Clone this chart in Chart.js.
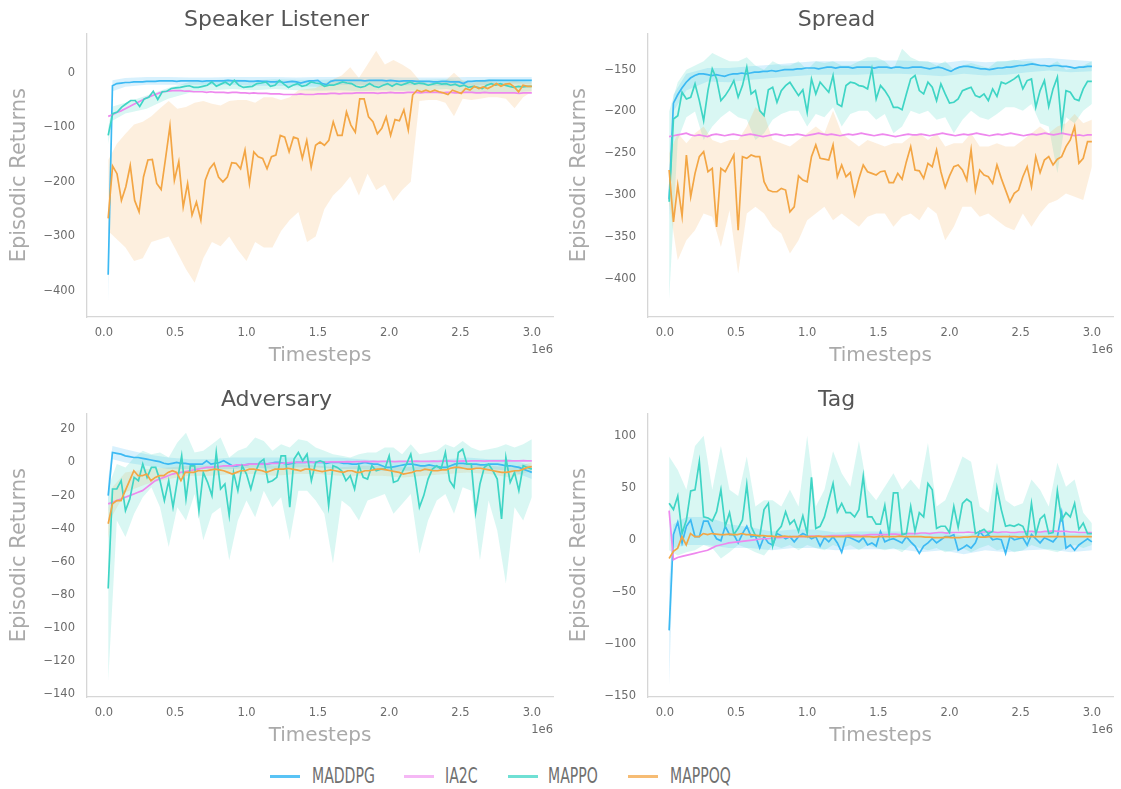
<!DOCTYPE html>
<html>
<head>
<meta charset="utf-8">
<script src="https://cdn.jsdelivr.net/npm/chart.js@4.4.1/dist/chart.umd.min.js"></script>
<style>
  body { margin: 0; background: #fff; width: 1121px; height: 789px; position: relative; overflow: hidden; font-family: 'DejaVu Sans', sans-serif; }
  canvas { position: absolute; }
  .lg-line { position: absolute; top: 775px; width: 30px; height: 2.5px; }
  .lg-text { position: absolute; top: 766px; font-size: 21px; line-height: 1; color: #707070; transform: scaleX(0.67); transform-origin: left center; white-space: nowrap; }
</style>
</head>
<body>
<canvas id="c1" width="560" height="370" style="left:0;top:0"></canvas>
<canvas id="c2" width="561" height="370" style="left:560px;top:0"></canvas>
<canvas id="c3" width="560" height="370" style="left:0;top:380px"></canvas>
<canvas id="c4" width="561" height="370" style="left:560px;top:380px"></canvas>

<div class="lg-line" style="left:270px;background:rgba(60,185,243,0.85)"></div>
<div class="lg-text" style="left:312px">MADDPG</div>
<div class="lg-line" style="left:404px;background:rgba(238,136,238,0.6)"></div>
<div class="lg-text" style="left:445px">IA2C</div>
<div class="lg-line" style="left:508px;background:rgba(63,213,197,0.75)"></div>
<div class="lg-text" style="left:548px">MAPPO</div>
<div class="lg-line" style="left:628px;background:rgba(243,166,69,0.75)"></div>
<div class="lg-text" style="left:670px">MAPPOQ</div>

<script>
// ---- data (episodic returns, x from 0.03e6 to 3.0e6) ----

const xTicks = [0, 500000, 1000000, 1500000, 2000000, 2500000, 3000000];
const slTicks = [-400, -300, -200, -100, 0];
const spTicks = [-400, -350, -300, -250, -200, -150];
const adTicks = [-140, -120, -100, -80, -60, -40, -20, 0, 20];
const tgTicks = [-150, -100, -50, 0, 50, 100];

// Speaker Listener
const slMaddpg = [-370, -24, -20, -19, -18, -18, -17, -17, -17, -16,
  -16, -16, -15, -15, -15, -15, -16, -15, -15, -15,
  -15, -15, -16, -15, -15, -15, -15, -15, -14, -15,
  -15, -15, -15, -16, -16, -15, -16, -16, -17, -17,
  -16, -18, -17, -16, -17, -19, -17, -15, -15, -14,
  -20, -22, -16, -14, -14, -14, -14, -14, -14, -14,
  -15, -14, -14, -14, -14, -15, -14, -15, -16, -15,
  -15, -15, -16, -16, -16, -16, -17, -17, -16, -16,
  -17, -17, -17, -20, -16, -16, -15, -15, -15, -14,
  -14, -14, -14, -14, -14, -14, -14, -14, -14, -14];
const slIa2c = [-80, -77, -73, -70, -66, -62, -58, -54, -50, -46,
  -43, -40, -37, -35, -34, -33, -33, -33, -34, -34,
  -35, -35, -35, -36, -35, -36, -36, -36, -37, -36,
  -36, -37, -37, -38, -37, -38, -38, -38, -39, -39,
  -39, -40, -40, -40, -40, -39, -40, -40, -40, -39,
  -39, -39, -38, -38, -39, -38, -38, -38, -37, -37,
  -37, -37, -37, -38, -37, -37, -36, -37, -37, -37,
  -36, -36, -36, -37, -36, -36, -36, -36, -37, -36,
  -36, -37, -37, -36, -36, -36, -37, -37, -36, -37,
  -37, -37, -37, -37, -37, -37, -38, -37, -37, -37];
const slMappo = [-115, -75, -72, -63, -57, -51, -51, -62, -48, -45,
  -34, -49, -35, -34, -29, -28, -27, -25, -24, -27,
  -27, -25, -23, -17, -25, -21, -17, -23, -14, -23,
  -27, -26, -25, -20, -19, -17, -25, -23, -14, -21,
  -27, -23, -20, -25, -23, -17, -19, -20, -25, -23,
  -23, -20, -17, -19, -20, -25, -27, -25, -20, -25,
  -27, -23, -20, -25, -20, -23, -20, -17, -21, -19,
  -20, -23, -21, -19, -21, -20, -23, -21, -25, -23,
  -27, -25, -27, -29, -23, -20, -23, -20, -23, -25,
  -27, -25, -26, -25, -25];
const slMappoq = [-267, -171, -185, -234, -209, -170, -234, -255, -191, -160,
  -159, -203, -214, -157, -98, -197, -163, -246, -203, -261,
  -237, -270, -197, -176, -166, -191, -200, -191, -165, -166,
  -176, -142, -203, -145, -154, -157, -176, -154, -151, -115,
  -118, -145, -118, -121, -157, -124, -173, -133, -127, -133,
  -124, -90, -115, -115, -72, -96, -109, -48, -48, -81,
  -90, -112, -102, -81, -115, -86, -88, -68, -105, -41,
  -32, -35, -32, -35, -32, -35, -37, -40, -32, -35,
  -38, -29, -32, -25, -29, -26, -29, -25, -20, -25,
  -21, -20, -26, -35, -23, -25, -25];

// Spread
const spMaddpg = [-305, -190, -180, -172, -165, -160, -157, -155, -155, -156,
  -157, -156, -157, -158, -156, -155, -155, -154, -155, -154,
  -153, -153, -152, -152, -151, -152, -151, -150, -150, -150,
  -149, -149, -148, -148, -148, -149, -148, -147, -147, -148,
  -147, -147, -147, -148, -147, -147, -147, -147, -148, -147,
  -147, -147, -148, -147, -147, -148, -148, -147, -147, -147,
  -148, -149, -148, -147, -148, -150, -152, -149, -147, -146,
  -146, -147, -148, -149, -149, -150, -149, -148, -148, -147,
  -147, -146, -145, -145, -144, -143, -144, -145, -145, -146,
  -145, -145, -146, -146, -147, -148, -147, -147, -146, -146];
const spIa2c = [-230, -229, -228, -227, -226, -228, -229, -228, -229, -230,
  -228, -227, -228, -229, -228, -227, -228, -229, -228, -227,
  -228, -229, -230, -229, -228, -227, -228, -229, -228, -228,
  -227, -228, -229, -228, -227, -226, -227, -228, -227, -228,
  -229, -228, -227, -228, -227, -226, -227, -228, -229, -228,
  -227, -228, -229, -230, -229, -228, -227, -228, -228, -227,
  -228, -229, -228, -227, -226, -227, -228, -229, -228, -227,
  -228, -227, -226, -227, -228, -229, -228, -227, -228, -227,
  -226, -227, -228, -229, -228, -227, -228, -227, -226, -227,
  -228, -227, -226, -227, -228, -229, -228, -229, -228, -228];
const spMappo = [-308, -209, -205, -177, -185, -183, -167, -187, -211, -175,
  -149, -161, -187, -181, -173, -163, -183, -169, -147, -179,
  -175, -199, -205, -174, -171, -189, -175, -169, -165, -173,
  -181, -174, -201, -161, -179, -165, -171, -177, -157, -191,
  -194, -169, -165, -166, -169, -170, -173, -149, -185, -169,
  -175, -183, -195, -195, -198, -179, -161, -157, -175, -179,
  -165, -171, -187, -167, -179, -190, -189, -185, -175, -173,
  -171, -181, -183, -179, -187, -173, -182, -165, -167, -164,
  -161, -157, -173, -163, -161, -195, -175, -163, -194, -173,
  -159, -218, -175, -177, -185, -187, -173, -164, -164];
const spMappoq = [-270, -332, -288, -325, -252, -302, -274, -254, -248, -272,
  -268, -338, -268, -272, -262, -252, -342, -254, -256, -252,
  -254, -254, -284, -294, -296, -296, -292, -294, -320, -314,
  -277, -282, -284, -254, -240, -256, -257, -258, -240, -278,
  -264, -278, -273, -300, -280, -264, -272, -274, -276, -272,
  -271, -285, -285, -274, -281, -260, -242, -270, -271, -280,
  -262, -266, -246, -272, -291, -277, -266, -264, -270, -282,
  -246, -294, -270, -276, -278, -286, -264, -280, -294, -308,
  -298, -294, -278, -266, -290, -254, -273, -258, -254, -264,
  -257, -254, -242, -234, -218, -262, -256, -236, -236];

// Adversary
const adMaddpg = [-20, 6, 5.5, 5, 4, 3.5, 3, 3, 2.5, 2,
  1.5, 1, 0.5, -0.5, -1, -0.5, 0, -0.5, -0.5, -1,
  -1, -1, -1, 1, -1, -0.5, 0, 1, -0.5, -2,
  -2, -1.5, -1.5, -1, -1, -1, -0.5, -1, -0.5, 0,
  0, -0.5, -1, -0.5, 0, 0, 0, 0.5, 0, 0,
  0, -0.5, 0, 0, 0, -0.5, -0.5, -1, -1, -0.5,
  0, -0.5, -1, -1, -2, -3, -3, -2.5, -2, -1.5,
  -1, -1, -1.5, -2, -2, -1.5, -2, -2.5, -3, -3,
  -2, -1, -0.5, -0.5, -1, -1, -1, -1.5, -1.5, -1,
  -1, -1, -1.5, -2, -2, -2.5, -3, -4, -5, -6];
const adIa2c = [-25, -24, -23, -22, -21, -20, -19, -18, -17, -15,
  -13, -11, -10, -9, -8, -7, -6.5, -6, -5.5, -5,
  -4.5, -4, -3.5, -3, -3, -2.5, -2.5, -2, -2, -2,
  -1.5, -1.5, -1.5, -1, -1, -1, -1, -0.8, -0.6, -0.5,
  -0.5, -0.4, -0.2, 0, 0, 0.1, 0, 0.2, 0.1, 0.2,
  0.3, 0.2, 0.3, 0.4, 0.3, 0.4, 0.5, 0.4, 0.5, 0.5,
  0.6, 0.5, 0.6, 0.5, 0.6, 0.7, 0.6, 0.5, 0.6, 0.7,
  0.6, 0.7, 0.8, 0.7, 0.6, 0.7, 0.8, 0.7, 0.8, 0.9,
  0.8, 0.7, 0.8, 0.9, 0.8, 0.9, 1.0, 0.9, 0.8, 0.9,
  1.0, 0.9, 1.0, 1.1, 1.0, 0.9, 1.0, 1.1, 1.0, 1.0];
const adMappo = [-76, -16, -16, -11, -29, -22, -9, -11, -1, -9,
  -3, -3, -11, -23, -11, -27, -11, 4, -22, -2,
  -2, -29, -6, -12, -20, 6, -16, -13, -32, -6,
  -17, -2, -7, -16, -6, 0, 2, -12, -11, -9,
  4, 4, -27, 2, 6, 1, 5, -11, 0, 1,
  0, -26, -2, -3, -5, -11, -8, -16, -2, -9,
  -10, -2, -5, -4, -4, 4, -12, -11, -6, -1,
  5, -9, -27, -20, -10, -4, -2, -4, 6, -11,
  -15, 6, 8, -1, -1, -30, -13, -3, -1, -5,
  -10, -34, 3, -12, -6, -17, -2, -3, -4];
const adMappoq = [-37, -25, -23, -23, -17, -11, -5, -8, -8, -7,
  -11, -9, -8, -8, -6, -5, -6, -11, -6, -6,
  -6, -5, -5, -5, -4.5, -4, -4.5, -5, -6, -7,
  -6, -5, -5, -4, -4, -4.5, -5, -6, -5, -4,
  -4, -4, -3.5, -4, -4.5, -5, -4, -4, -4.5, -5,
  -5.5, -5, -4.5, -5, -5.5, -6, -5, -5, -6, -6,
  -5, -5, -4.5, -4, -4, -4.5, -5, -5.5, -6, -7,
  -6.5, -6, -5, -5, -4, -4.5, -5, -5, -4.5, -4.5,
  -3.5, -3, -3, -3.5, -4, -4, -3.5, -3.5, -4, -4.5,
  -5, -5.5, -6, -6, -5.5, -5, -5, -4, -3, -2.5];

// Tag
const tgMaddpg = [-87, 5, 17, -3, 13, 19, 3, 3, 18, 18,
  8, 1, -1, 13, 5, 5, -3, 6, 13, 3,
  4, -8, 3, -3, -5, 6, 4, 1, 3, -2,
  3, 6, 4, 1, 3, -6, 2, -2, 3, -3,
  -12, 3, 2, 0, -2, 2, -5, -3, -6, 8,
  -2, 0, 1, -1, -3, 3, -2, -6, -13, -6,
  -3, 1, -3, 0, 3, 3, 5, -10, -8, -5,
  -8, -3, 8, 3, 5, 0, 1, 0, -13, 3,
  0, 1, 2, -5, 5, 1, -3, 2, 0, -2,
  3, 26, -8, -5, -10, -5, -2, 1, -2];
const tgIa2c = [28, -19, -17, -16, -15, -14, -13, -12, -11, -10,
  -8, -6, -5, -4, -3, -2.5, -2, -1.5, -1, -0.5,
  0, 0.5, 1, 1, 1.5, 2, 2, 2.5, 2.5, 3,
  3, 3, 3, 3.5, 3.5, 3.5, 3, 3.5, 4, 4,
  4, 4, 4.5, 4.5, 4.5, 4, 4.5, 5, 5, 5,
  5, 5, 5.5, 5.5, 5, 5.5, 6, 6, 6, 6.5,
  6.5, 6, 6.5, 7, 7, 6.5, 7, 7, 7, 7,
  7.5, 7, 7, 7.5, 7.5, 8, 7.5, 7, 7.5, 7.5,
  7, 7, 7.5, 7.5, 8, 8, 7.5, 7.5, 8, 8,
  8.5, 8, 8, 8, 7.5, 7.5, 7, 7, 7, 7];
const tgMappo = [35, 29, 42, 6, 19, 47, 48, 75, 22, 21,
  18, 27, 48, 13, 26, 5, 11, 19, 53, 13,
  4, 3, 29, 35, -6, 8, 13, 27, 15, 19,
  8, 23, 6, 60, 11, 13, 22, 38, 54, 27,
  35, 26, 26, 22, 29, 61, 22, 22, 15, 15,
  33, 5, 45, 45, 5, 6, 32, 8, 26, 22,
  54, 48, 11, 13, 13, 7, 32, 12, 35, 39,
  36, 6, 8, 10, 6, 8, 50, 29, 13, 14,
  13, 15, 13, 3, 35, 5, 20, 24, 6, 7,
  47, 19, 26, 22, 35, 10, 16, 6, 6];
const tgMappoq = [-18, -11, -8, 3, -5, 6, 3, 3, 6, 5,
  6, 5.5, 5, 5, 5.5, 5, 5, 6, 5, 5,
  4.5, 4, 4, 3.5, 3.5, 3, 3, 3.5, 3, 3,
  3, 3.5, 3, 3, 3, 3.5, 3, 3, 3, 3,
  3, 3, 3.5, 3, 3, 3, 3, 3, 2.5, 3,
  3, 3, 3, 3, 3.5, 3, 3, 3, 3, 3,
  2.5, 2.5, 2, 2, 2, 2.5, 2, 2, 2, 2.5,
  2.5, 3, 3, 2.5, 2.5, 3, 3, 3, 3, 3,
  3, 3, 2.5, 3, 3, 3, 3, 3, 3, 3,
  3, 3, 3, 3, 3, 3, 3, 3, 3, 3];

// shaded bands (lower / upper edges), 50 points over the same range
const slMappoqHi = [-160, -130, -112, -95, -90, -80, -65, -52, -66, -63, -55, -52, -57, -60, -52, -50, -50, -55, -45, -45,
  -50, -45, -32, -30, -28, -20, -12, -5, 10, -10, 15, 40, 15, 23, 15, 5, -14, -20, -18, -15,
  0, -15, -20, -15, -15, -18, -18, -15, -18, -18];
const slMappoqLo = [-290, -305, -320, -345, -340, -310, -305, -300, -330, -360, -385, -340, -310, -318, -300, -325, -345, -310, -320, -320,
  -290, -270, -255, -310, -300, -250, -225, -210, -190, -225, -185, -215, -205, -235, -215, -200, -52, -50, -50, -55,
  -80, -48, -50, -48, -45, -45, -48, -65, -45, -35];
const spMappoHi = [-200, -165, -150, -145, -140, -130, -135, -140, -140, -135, -145, -150, -140, -145, -145, -140, -150, -140, -142, -140,
  -145, -145, -140, -135, -135, -140, -150, -125, -135, -140, -140, -145, -140, -150, -145, -142, -145, -148, -140, -140,
  -138, -140, -140, -145, -145, -140, -150, -148, -145, -140];
const spMappoLo = [-425, -234, -207, -200, -234, -218, -207, -199, -207, -210, -234, -226, -210, -203, -199, -199, -218, -203, -207, -195,
  -218, -203, -199, -199, -210, -203, -226, -218, -199, -203, -199, -210, -207, -226, -210, -199, -207, -210, -203, -195,
  -195, -199, -191, -214, -218, -274, -207, -214, -199, -191];
const spMappoqHi = [-250, -226, -238, -226, -218, -234, -238, -234, -234, -218, -195, -203, -234, -238, -242, -234, -226, -218, -226, -199,
  -226, -234, -242, -234, -238, -242, -238, -238, -230, -226, -234, -226, -242, -238, -238, -226, -242, -242, -238, -242,
  -242, -234, -226, -218, -226, -218, -214, -203, -214, -210];
const spMappoqLo = [-310, -378, -354, -342, -322, -326, -362, -318, -394, -322, -314, -322, -338, -346, -370, -354, -330, -322, -314, -330,
  -322, -330, -338, -326, -322, -322, -338, -326, -322, -330, -314, -322, -354, -338, -314, -314, -326, -322, -330, -338,
  -342, -322, -338, -322, -310, -306, -298, -302, -306, -266];
const adMappoHi = [-15, -1, -3, 3, 7, 5, 6, 3, 12, 18, 6, 7, 11, 15, 3, 7, 9, 15, 13, 7,
  11, 9, 14, 13, 9, 7, 5, 4, 3, 5, 6, 6, 9, 9, 5, 11, 5, 6, 7, 11,
  9, 13, 9, 7, 8, 9, 11, 9, 11, 14];
const adMappoLo = [-132, -35, -45, -31, -21, -15, -27, -51, -27, -35, -19, -47, -31, -27, -59, -35, -23, -33, -17, -27,
  -21, -47, -17, -17, -23, -31, -61, -23, -27, -35, -23, -21, -19, -31, -25, -19, -55, -35, -23, -19,
  -31, -15, -17, -59, -23, -41, -73, -27, -35, -21];
const tgMappoHi = [80, 67, 48, 90, 100, 48, 90, 48, 42, 80, 32, 38, 38, 32, 48, 32, 100, 32, 48, 85,
  64, 51, 95, 48, 38, 51, 64, 48, 58, 48, 93, 32, 38, 58, 80, 75, 32, 26, 74, 38,
  32, 35, 58, 48, 32, 74, 51, 58, 26, 16];
const tgMappoLo = [-10, -15, -12, -10, -5, -8, -18, -12, -5, -8, -12, -15, -5, -8, -5, -10, -5, -8, -10, -5,
  -8, -5, -10, -5, -8, -10, -8, -12, -5, -8, -10, -8, -12, -10, -8, -12, -8, -5, -10, -8,
  -12, -10, -5, -8, -10, -12, -8, -5, -8, -5];

// narrower bands, sampled at these timesteps (1e6)
const minorX = [0.03, 0.06, 0.15, 0.3, 0.45, 0.6, 0.75, 0.9, 1.05, 1.2, 1.35, 1.5, 1.65, 1.8, 1.95, 2.1, 2.25, 2.4, 2.55, 2.7, 2.85, 3.0];
const slMaddpgHi = [-320, -14, -10, -8, -8, -9, -9, -8, -8, -8, -9, -8, -8, -8, -8, -9, -9, -9, -8, -8, -8, -8];
const slMaddpgLo = [-420, -34, -26, -22, -22, -22, -22, -22, -24, -24, -25, -26, -22, -22, -24, -23, -23, -25, -24, -22, -20, -20];
const slMappoHi = [-100, -62, -55, -42, -28, -17, -14, -12, -14, -12, -13, -13, -12, -14, -13, -14, -13, -12, -15, -12, -14, -16];
const slMappoLo = [-130, -88, -75, -66, -48, -37, -32, -30, -32, -30, -32, -33, -32, -34, -32, -33, -32, -30, -36, -36, -36, -34];
const spMaddpgHi = [-280, -180, -155, -148, -148, -146, -144, -142, -140, -140, -140, -139, -139, -140, -142, -139, -141, -140, -137, -136, -138, -140];
const spMaddpgLo = [-330, -200, -175, -164, -165, -162, -160, -158, -156, -156, -156, -155, -155, -156, -158, -155, -157, -156, -153, -151, -153, -152];
const adMaddpgHi = [-10, 10, 8, 5, 3, 2, 2, 3, 3, 3, 3, 3, 3, 2, 1, 1, 1, 2, 3, 2, 2, -2];
const adMaddpgLo = [-30, 2, 0, -2, -4, -4, -4, -4, -3, -4, -3, -3, -4, -4, -5, -5, -5, -4, -4, -4, -5, -10];
const adMappoqHi = [-28, -15, -6, -4, -3, -2, -2, -2, -1, -2, -1, -2, -3, -2, -2, -3, -2, -2, -1, -2, -3, 0];
const adMappoqLo = [-46, -32, -18, -13, -10, -8, -8, -7, -7, -8, -7, -7, -8, -8, -8, -9, -8, -7, -6, -7, -9, -5];
const tgMaddpgHi = [-40, 15, 22, 22, 15, 12, 8, 10, 10, 7, 8, 8, 8, 6, 8, 4, 8, 6, 7, 8, 6, 6];
const tgMaddpgLo = [-140, -8, -5, -5, -8, -8, -10, -8, -8, -10, -9, -9, -9, -12, -10, -14, -10, -12, -10, -9, -12, -10];

// ---- drawing ----
const FONT = "'DejaVu Sans', sans-serif";
Chart.defaults.font.family = FONT;

const colors = { MADDPG: '#3cb9f3', IA2C: '#ee88ee', MAPPO: '#3fd5c5', MAPPOQ: '#f3a645' };
const bandColors = {
  MADDPG: 'rgba(60,185,243,0.2)',
  MAPPO: 'rgba(63,213,197,0.2)',
  MAPPOQ: 'rgba(245,165,70,0.18)'
};

function pts(vals, xs) {
  const n = vals.length;
  return vals.map((v, i) => ({
    x: xs ? xs[i] * 1e6 : 30000 + i * (2970000 / (n - 1)),
    y: v
  }));
}

function lineSet(name, vals, order) {
  return { label: name, data: pts(vals), borderColor: colors[name], borderWidth: 1.7,
    pointRadius: 0, fill: false, tension: 0, order: order };
}

function bandSets(name, lo, hi, xs) {
  return [
    { data: pts(hi, xs), borderColor: 'rgba(0,0,0,0)', borderWidth: 1, pointRadius: 0, fill: false, order: 10 },
    { data: pts(lo, xs), borderColor: 'rgba(0,0,0,0)', borderWidth: 1, pointRadius: 0, fill: '-1',
      backgroundColor: bandColors[name], order: 10 }
  ];
}

const offsetLabel = {
  id: 'offsetLabel',
  afterDraw(chart) {
    const { ctx, chartArea } = chart;
    ctx.save();
    ctx.font = '11.5px ' + FONT;
    ctx.fillStyle = '#6b6b6b';
    ctx.textAlign = 'right';
    ctx.textBaseline = 'middle';
    ctx.fillText('1e6', chartArea.right, chartArea.bottom + 33);
    ctx.restore();
  }
};

function minus(v) { return v < 0 ? '\u2212' + (-v) : String(v); }

function makeChart(id, title, datasets, yMin, yMax, yTicks, leftW, rightPad) {
  new Chart(document.getElementById(id), {
    type: 'line',
    data: { datasets: datasets },
    plugins: [offsetLabel],
    options: {
      responsive: false,
      animation: false,
      devicePixelRatio: 1,
      layout: { padding: { left: 0, right: rightPad, top: 0, bottom: 0 } },
      plugins: {
        legend: { display: false },
        tooltip: { enabled: false },
        title: { display: true, text: title, color: '#555555',
          font: { size: 22, weight: 'normal', lineHeight: 1.2 }, padding: { top: 7, bottom: 0 } }
      },
      scales: {
        x: {
          type: 'linear', min: -118500, max: 3148500,
          grid: { display: false, drawTicks: false },
          border: { display: true, color: '#d6d6d6', width: 1.3 },
          afterBuildTicks: s => { s.ticks = xTicks.map(v => ({ value: v })); },
          ticks: { padding: 9, color: '#6b6b6b', font: { size: 11.5 }, maxRotation: 0, autoSkip: false,
            callback: v => (v / 1e6).toFixed(1) },
          title: { display: true, text: 'Timesteps', color: '#aaaaaa', font: { size: 20 },
            padding: { top: 0, bottom: 2 } },
          afterFit: s => { s.height = 53; }
        },
        y: {
          min: yMin, max: yMax,
          grid: { display: false, drawTicks: false },
          border: { display: true, color: '#d6d6d6', width: 1.3 },
          afterBuildTicks: s => { s.ticks = yTicks.map(v => ({ value: v })); },
          ticks: { padding: 12, color: '#6b6b6b', font: { size: 11.5 }, autoSkip: false, callback: minus },
          title: { display: true, text: 'Episodic Returns', color: '#aaaaaa', font: { size: 21 },
            padding: { top: 7, bottom: 0 } },
          afterFit: s => { s.width = leftW; }
        }
      }
    }
  });
}

makeChart('c1', 'Speaker Listener', [
  ...bandSets('MAPPOQ', slMappoqLo, slMappoqHi),
  ...bandSets('MADDPG', slMaddpgLo, slMaddpgHi, minorX),
  ...bandSets('MAPPO', slMappoLo, slMappoHi, minorX),
  lineSet('MADDPG', slMaddpg, 4),
  lineSet('IA2C', slIa2c, 3),
  lineSet('MAPPO', slMappo, 2),
  lineSet('MAPPOQ', slMappoq, 1)
], -447.5, 71.9, slTicks, 87, 7);

makeChart('c2', 'Spread', [
  ...bandSets('MAPPOQ', spMappoqLo, spMappoqHi),
  ...bandSets('MAPPO', spMappoLo, spMappoHi),
  ...bandSets('MADDPG', spMaddpgLo, spMaddpgHi, minorX),
  lineSet('MADDPG', spMaddpg, 4),
  lineSet('IA2C', spIa2c, 3),
  lineSet('MAPPO', spMappo, 2),
  lineSet('MAPPOQ', spMappoq, 1)
], -445.8, -106.6, spTicks, 88, 8);

makeChart('c3', 'Adversary', [
  ...bandSets('MAPPO', adMappoLo, adMappoHi),
  ...bandSets('MADDPG', adMaddpgLo, adMaddpgHi, minorX),
  ...bandSets('MAPPOQ', adMappoqLo, adMappoqHi, minorX),
  lineSet('MADDPG', adMaddpg, 4),
  lineSet('IA2C', adIa2c, 3),
  lineSet('MAPPO', adMappo, 2),
  lineSet('MAPPOQ', adMappoq, 1)
], -141.5, 29.6, adTicks, 87, 7);

makeChart('c4', 'Tag', [
  ...bandSets('MAPPO', tgMappoLo, tgMappoHi),
  ...bandSets('MADDPG', tgMaddpgLo, tgMaddpgHi, minorX),
  lineSet('MADDPG', tgMaddpg, 4),
  lineSet('IA2C', tgIa2c, 3),
  lineSet('MAPPO', tgMappo, 2),
  lineSet('MAPPOQ', tgMappoq, 1)
], -151, 121.4, tgTicks, 88, 8);
</script>
</body>
</html>
